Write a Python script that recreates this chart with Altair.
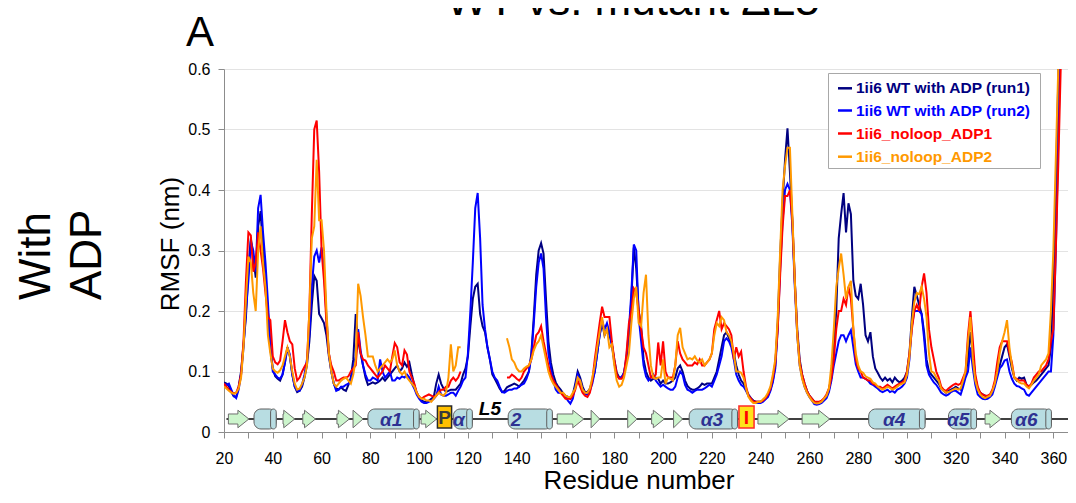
import altair as alt
import pandas as pd

FONT = "Liberation Sans, Arial, sans-serif"

residues = list(range(20, 366))

navy = [
    .082, .080, .076, .066, .059, .058, .075, .100, .145, .190,
    .270, .320, .290, .255, .340, .365, .300, .240, .200, .140,
    .105, .092, .088, .085, .095, .115, .140, .125, .095, .075,
    .066, .068, .075, .090, .110, .150, .210, .258, .250, .195,
    .188, .180, .160, .125, .100, .080, .072, .070, .074, .070,
    .068, .078, .090, .120, .195, .150, .130, .110, .090, .078,
    .080, .082, .080, .082, .085, .090, .085, .090, .095, .100,
    .105, .110, .100, .105, .115, .108, .115, .095, .078, .065,
    .058, .052, .050, .050, .052, .055, .058, .080, .095, .080,
    .072, .066, .068, .070, .070, .070, .075, .080, .095, .105,
    .125, .175, .220, .240, .245, .195, .175, .165, .140, .120,
    .095, .088, .080, .072, .066, .068, .074, .076, .078, .080,
    .078, .075, .080, .085, .092, .100, .130, .190, .260, .300,
    .312, .295, .220, .150, .115, .095, .082, .075, .070, .064,
    .060, .058, .055, .062, .080, .100, .090, .075, .066, .066,
    .072, .085, .100, .130, .160, .180, .160, .170, .160, .145,
    .120, .098, .090, .090, .098, .120, .160, .220, .305, .270,
    .200, .175, .120, .100, .090, .085, .088, .090, .088, .080,
    .085, .080, .080, .082, .085, .090, .105, .110, .100, .085,
    .076, .072, .070, .070, .072, .075, .080, .078, .080, .080,
    .080, .090, .100, .120, .140, .160, .165, .155, .145, .130,
    .110, .095, .085, .080, .070, .062, .056, .052, .050, .050,
    .050, .052, .055, .060, .070, .085, .110, .180, .290, .380,
    .450, .502, .430, .350, .250, .170, .120, .095, .080, .068,
    .060, .055, .050, .048, .048, .050, .054, .060, .070, .090,
    .140, .200, .320, .360, .395, .330, .378, .360, .250, .225,
    .220, .245, .210, .160, .150, .165, .125, .105, .098, .090,
    .085, .090, .085, .088, .082, .090, .085, .082, .085, .090,
    .100, .130, .190, .240, .225, .210, .195, .165, .120, .100,
    .095, .090, .085, .080, .072, .068, .065, .068, .070, .072,
    .075, .072, .070, .080, .095, .120, .165, .130, .090, .072,
    .065, .062, .060, .058, .060, .068, .080, .095, .110, .125,
    .140, .145, .125, .105, .090, .085, .090, .088, .090, .078,
    .075, .078, .082, .085, .090, .095, .100, .105, .110, .140,
    .250, .400, .580, .750, .900, 1.0,
]

blue = [
    .080, .078, .080, .070, .060, .056, .070, .095, .140, .200,
    .250, .315, .300, .265, .370, .392, .330, .280, .215, .140,
    .100, .095, .090, .088, .095, .115, .140, .128, .095, .075,
    .068, .068, .078, .095, .120, .160, .240, .290, .300, .280,
    .305, .270, .190, .130, .100, .080, .068, .070, .075, .075,
    .078, .080, .085, .105, .125, .170, .135, .110, .095, .085,
    .085, .090, .088, .085, .120, .100, .090, .095, .100, .085,
    .085, .090, .088, .092, .090, .095, .090, .080, .072, .062,
    .055, .050, .048, .048, .050, .052, .055, .060, .075, .062,
    .060, .060, .062, .065, .065, .060, .068, .075, .085, .090,
    .130, .200, .280, .370, .395, .320, .210, .170, .140, .120,
    .100, .090, .085, .075, .066, .065, .068, .070, .070, .072,
    .072, .075, .078, .080, .088, .100, .125, .180, .240, .280,
    .295, .270, .190, .130, .105, .085, .070, .065, .065, .062,
    .058, .052, .047, .055, .075, .095, .085, .070, .062, .062,
    .068, .080, .100, .130, .160, .185, .170, .180, .165, .145,
    .115, .092, .090, .090, .098, .125, .170, .230, .310, .300,
    .190, .150, .110, .092, .085, .090, .095, .085, .080, .075,
    .078, .075, .072, .070, .070, .075, .090, .100, .095, .078,
    .070, .068, .065, .068, .070, .070, .070, .072, .075, .078,
    .075, .085, .095, .110, .125, .150, .155, .150, .140, .120,
    .095, .085, .078, .075, .068, .060, .055, .050, .048, .048,
    .048, .050, .054, .058, .068, .082, .105, .170, .270, .350,
    .400, .410, .400, .340, .240, .160, .110, .090, .075, .065,
    .058, .052, .046, .045, .046, .048, .052, .056, .066, .085,
    .110, .130, .150, .160, .160, .150, .160, .168, .140, .112,
    .100, .090, .090, .088, .085, .080, .078, .075, .072, .068,
    .066, .068, .070, .066, .068, .065, .070, .072, .075, .080,
    .090, .120, .175, .200, .200, .200, .195, .155, .110, .095,
    .088, .082, .078, .072, .065, .062, .060, .062, .066, .068,
    .068, .065, .062, .075, .090, .100, .140, .105, .078, .062,
    .058, .055, .054, .055, .058, .062, .075, .090, .105, .110,
    .118, .120, .100, .088, .080, .076, .075, .072, .070, .062,
    .060, .065, .070, .075, .080, .085, .090, .095, .100, .100,
    .160, .300, .480, .650, .850, 1.0,
]

red = [
    .080, .075, .070, .066, .064, .065, .075, .095, .150, .250,
    .330, .325, .265, .280, .330, .300, .270, .230, .190, .185,
    .125, .115, .112, .118, .150, .185, .165, .150, .145, .105,
    .085, .090, .100, .108, .115, .200, .360, .500, .515, .430,
    .300, .250, .180, .130, .110, .100, .085, .085, .088, .090,
    .090, .092, .100, .105, .110, .165, .130, .120, .118, .110,
    .105, .100, .095, .090, .095, .100, .110, .105, .100, .125,
    .147, .140, .115, .110, .135, .128, .100, .090, .080, .065,
    .058, .055, .058, .060, .062, .060, .058, .060, .065, .070,
    .070, .075, .075, .085, .090, .085, .090, .100, None, None,
    None, None, None, None, None, None, None, None, None, None,
    None, None, None, None, None, None, .090, .090, .095, .092,
    .088, .085, .090, .100, .105, .110, .120, .140, .160, .165,
    .175, .150, .130, .110, .095, .085, .078, .072, .065, .060,
    .055, .055, .055, .060, .070, .085, .075, .065, .060, .058,
    .065, .085, .120, .150, .180, .207, .190, .190, .190, .150,
    .120, .095, .088, .088, .095, .130, .180, .200, .237, .230,
    .200, .170, .140, .130, .110, .090, .090, .095, .148, .110,
    .150, .100, .090, .090, .090, .110, .150, .130, .120, .115,
    .110, .110, .110, .115, .112, .120, .110, .110, .115, .120,
    .130, .170, .185, .200, .170, .180, .175, .170, .160, .120,
    .140, .125, .133, .100, .075, .060, .055, .050, .050, .050,
    .050, .052, .056, .062, .072, .090, .115, .170, .260, .340,
    .390, .390, .400, .350, .250, .165, .115, .095, .080, .068,
    .060, .055, .050, .050, .050, .052, .056, .062, .072, .090,
    .120, .170, .200, .200, .220, .210, .240, .220, .170, .120,
    .105, .100, .090, .088, .085, .085, .080, .078, .075, .075,
    .072, .075, .078, .075, .072, .075, .078, .080, .082, .085,
    .100, .130, .170, .200, .210, .200, .240, .262, .230, .170,
    .140, .120, .100, .090, .075, .070, .068, .072, .075, .078,
    .080, .078, .080, .090, .100, .160, .200, .150, .095, .075,
    .065, .062, .060, .060, .062, .070, .085, .115, .140, .150,
    .150, .150, .130, .115, .090, .088, .085, .085, .085, .078,
    .075, .080, .090, .095, .100, .100, .105, .110, .120, .150,
    .170, .300, .440, .600, .800, 1.0,
]

orange = [
    .075, .072, .068, .065, .063, .065, .072, .090, .140, .220,
    .290, .280, .230, .200, .300, .340, .280, .240, .160, .130,
    .105, .100, .098, .102, .110, .125, .140, .125, .100, .080,
    .070, .072, .080, .090, .110, .200, .320, .340, .450, .350,
    .350, .300, .200, .130, .100, .080, .075, .080, .085, .088,
    .090, .085, .080, .095, .120, .245, .225, .190, .160, .125,
    .125, .125, .110, .100, .105, .110, .115, .120, .115, .120,
    .135, .110, .100, .095, .100, .090, .085, .080, .075, .065,
    .058, .055, .055, .052, .052, .050, .055, .060, .065, .062,
    .060, .065, .090, .145, .100, .110, .140, .140, None, None,
    None, None, None, None, None, None, None, None, None, None,
    None, None, None, None, None, None, .155, .140, .120, .115,
    .105, .100, .100, .105, .108, .110, .120, .135, .145, .150,
    .160, .140, .120, .100, .088, .080, .075, .070, .065, .065,
    .060, .058, .058, .065, .072, .090, .085, .070, .065, .065,
    .072, .090, .110, .140, .165, .190, .160, .170, .140, .145,
    .110, .085, .075, .078, .090, .110, .130, .180, .220, .240,
    .180, .175, .230, .260, .160, .110, .090, .088, .090, .090,
    .120, .080, .090, .088, .085, .110, .160, .172, .140, .130,
    .120, .122, .120, .125, .118, .115, .120, .110, .115, .120,
    .130, .160, .180, .175, .190, .185, .165, .160, .150, .130,
    .100, .100, .098, .090, .072, .058, .052, .048, .048, .050,
    .050, .054, .058, .065, .075, .095, .120, .190, .300, .400,
    .440, .470, .470, .360, .250, .160, .110, .088, .075, .065,
    .058, .052, .048, .047, .048, .050, .055, .060, .072, .110,
    .170, .240, .270, .295, .260, .220, .240, .250, .170, .130,
    .110, .100, .098, .092, .090, .088, .082, .080, .075, .072,
    .070, .072, .075, .073, .070, .072, .075, .078, .080, .082,
    .095, .125, .180, .215, .230, .228, .240, .220, .190, .130,
    .100, .098, .090, .085, .072, .068, .065, .066, .068, .070,
    .072, .070, .072, .085, .100, .150, .190, .120, .085, .070,
    .062, .058, .056, .058, .060, .068, .080, .100, .130, .150,
    .165, .185, .140, .110, .090, .086, .082, .080, .080, .075,
    .072, .078, .085, .090, .095, .110, .115, .120, .130, .200,
    .300, .450, .600, .750, .900, 1.0,
]

series_names = ["1ii6 WT with ADP (run1)", "1ii6 WT with ADP (run2)",
                "1ii6_noloop_ADP1", "1ii6_noloop_ADP2"]
series_colors = ["#000080", "#0000FF", "#FF0000", "#FF9900"]

# secondary structure (residue numbers)
arrow_start = [21.8, 44.2, 52.3, 66.3, 72.9, 100.8, 156.6, 170.5, 185.5, 195.3, 204.3, 238.9, 257.0, 332.0]
arrow_end = [30.2, 49.0, 57.5, 71.4, 77.0, 107.2, 167.5, 174.0, 189.3, 200.5, 208.0, 251.6, 268.3, 338.5]
cyl_start = [32.3, 79.0, 114.0, 136.5, 210.7, 284.3, 317.0, 342.8]
cyl_end = [41.4, 100.0, 121.8, 154.6, 230.5, 307.4, 328.5, 359.2]
cyl_label = ["", "α1", "α", "2", "α3", "α4", "α5", "α6"]
cyl_label_pos = [36.0, 88.5, 116.3, 139.7, 220.0, 294.7, 321.0, 348.9]
box_start = [107.5, 231.1]
box_end = [113.3, 237.3]
box_label = ["P", "I"]
loop_label = ["L5"]
loop_pos = [129.0]

# ---------------------------------------------------------------- frames
rows = []
for name, vals in zip(series_names, [navy, blue, red, orange]):
    assert len(vals) == len(residues), (name, len(vals))
    seg, gap = 0, False
    for r, v in zip(residues, vals):
        if v is None:
            gap = True
            continue
        if gap:
            seg += 1
            gap = False
        rows.append({"res": r, "rmsf": v, "series": name, "seg": seg})
df = pd.DataFrame(rows)

SS_Y = 0.0215
ar = []
for i, (s, e) in enumerate(zip(arrow_start, arrow_end)):
    hs = e - min(4.5, e - s)
    ar += [
        {"id": i, "x": s, "lo": SS_Y - 0.0083, "hi": SS_Y + 0.0083},
        {"id": i, "x": hs, "lo": SS_Y - 0.0083, "hi": SS_Y + 0.0083},
        {"id": i, "x": hs, "lo": SS_Y - 0.0145, "hi": SS_Y + 0.0145},
        {"id": i, "x": e, "lo": SS_Y, "hi": SS_Y},
    ]
arrows = pd.DataFrame(ar)
cyl = pd.DataFrame({"s": cyl_start, "e": cyl_end, "lab": cyl_label, "lp": cyl_label_pos})
cyl["cs"] = cyl["e"] - 2.3
cyl["lo"] = SS_Y - 0.0165
cyl["hi"] = SS_Y + 0.0165
cyl["mid"] = SS_Y
boxes = pd.DataFrame({"s": box_start, "e": box_end, "lab": box_label})
boxes["m"] = (boxes["s"] + boxes["e"]) / 2
boxes["lo"] = 0.0066
boxes["hi"] = 0.043
boxes["mid"] = SS_Y + 0.003
backbone = pd.DataFrame({"s": [21.0], "e": [366.0], "y": [SS_Y]})
loops = pd.DataFrame({"lab": loop_label, "x": loop_pos, "y": [0.0285]})

xs = alt.Scale(domain=[20, 366], nice=False, zero=False)
ys = alt.Scale(domain=[0, 0.6], nice=False, zero=True)
xaxis = alt.Axis(values=list(range(20, 361, 10)),
                 labelExpr="datum.value % 20 === 0 ? datum.label : ''",
                 format="d", title=None, grid=False, tickSize=6, labelFontSize=16,
                 labelFont=FONT, labelPadding=12, labelColor="#000000",
                 domainColor="#8c8c8c", tickColor="#8c8c8c", labelOverlap=False,
                 labelFlush=False, labelBound=False)
yaxis = alt.Axis(values=[0, 0.1, 0.2, 0.3, 0.4, 0.5, 0.6],
                 labelExpr="datum.value == 0 ? '0' : format(datum.value, '.1f')",
                 title=None, grid=True, gridColor="#e3e3e3", tickSize=6, labelFontSize=16,
                 labelFont=FONT, labelPadding=8, labelColor="#000000",
                 domainColor="#8c8c8c", tickColor="#8c8c8c", labelOverlap=False,
                 labelFlush=False, labelBound=False)


def X(f):
    return alt.X(f, type="quantitative", scale=xs, axis=xaxis)


def Y(f):
    return alt.Y(f, type="quantitative", scale=ys, axis=yaxis)


color = alt.Color("series:N", scale=alt.Scale(domain=series_names, range=series_colors),
                  legend=None)

layers = []
# backbone of the secondary-structure diagram
layers.append(alt.Chart(backbone).mark_rule(color="#404040", strokeWidth=2, clip=True)
              .encode(x=X("s"), x2="e", y=Y("y")))
layers.append(alt.Chart(arrows).mark_area(fill="#ccf5cc", stroke="#6e6e6e", strokeWidth=1,
                                          opacity=1, interpolate="linear")
              .encode(x=X("x"), y=Y("lo"), y2="hi", detail="id:N"))
layers.append(alt.Chart(cyl).mark_rect(fill="#b8dde2", stroke="#5f5f5f", strokeWidth=1,
                                       cornerRadius=7)
              .encode(x=X("s"), x2="e", y=Y("lo"), y2="hi"))
layers.append(alt.Chart(cyl).mark_rect(fill="#b8dde2", stroke="#5f5f5f", strokeWidth=1,
                                       cornerRadius=3)
              .encode(x=X("cs"), x2="e", y=Y("lo"), y2="hi"))
layers.append(alt.Chart(cyl).mark_text(font=FONT, fontSize=19, fontWeight="bold",
                                       fontStyle="italic", color="#2E3192", baseline="middle",
                                       dy=1)
              .encode(x=X("lp"), y=Y("mid"), text="lab:N"))
box_colors = {"P": ("#FFC000", "#2a2a2a", "#3a3a3a"), "I": ("#FFE21A", "#FF2A2A", "#FF0000")}
for lab in box_label:
    fill, stroke, tcol = box_colors[lab]
    sub = boxes[boxes.lab == lab]
    layers.append(alt.Chart(sub).mark_rect(fill=fill, stroke=stroke, strokeWidth=1.5)
                  .encode(x=X("s"), x2="e", y=Y("lo"), y2="hi"))
    layers.append(alt.Chart(sub).mark_text(font=FONT, fontSize=19, fontWeight="bold",
                                           color=tcol, baseline="middle", dy=1)
                  .encode(x=X("m"), y=Y("mid"), text="lab:N"))
layers.append(alt.Chart(loops).mark_text(font=FONT, fontSize=19, fontWeight="bold",
                                         fontStyle="italic", color="#000000",
                                         baseline="alphabetic")
              .encode(x=X("x"), y=Y("y"), text="lab:N"))

for name in series_names:
    layers.append(alt.Chart(df[df.series == name]).mark_line(strokeWidth=2, clip=True)
                  .encode(x=X("res"), y=Y("rmsf"), color=color, detail="seg:N"))

one = pd.DataFrame({"a": [0]})


def label(text, x, y, size, angle=0, align="left", baseline="alphabetic",
          color="#000000", weight="normal"):
    kw = dict(text=text, font=FONT, fontSize=size, color=color, align=align,
              baseline=baseline, fontWeight=weight)
    if angle:
        kw["angle"] = angle
    return alt.Chart(one).mark_text(**kw).encode(x=alt.value(x), y=alt.value(y))


# legend (drawn by hand so that each label takes its series colour)
layers.append(alt.Chart(one).mark_rect(fill="white", stroke="#a8a8a8", strokeWidth=1)
              .encode(x=alt.value(604.5), x2=alt.value(816.5),
                      y=alt.value(4.5), y2=alt.value(99.5)))
row_y = [19.3, 41.5, 64.5, 87.7]
for name, col, yc in zip(series_names, series_colors, row_y):
    layers.append(alt.Chart(one).mark_rule(color=col, strokeWidth=2.5)
                  .encode(x=alt.value(614), x2=alt.value(628), y=alt.value(yc)))
    layers.append(label(name, 632, yc, 15.5, baseline="middle", color=col, weight="bold"))

layers.append(label("A", -38, -23, 42))
layers.append(label("WT vs. mutant ΔL5", 409, -54, 44, align="center"))
layers.append(label("With", -174, 231, 44, angle=270))
layers.append(label("ADP", -123, 231, 44, angle=270))
layers.append(label("RMSF (nm)", -45, 175, 26, angle=270, align="center"))
layers.append(label("Residue number", 415, 420, 26, align="center"))

chart = alt.layer(*layers).properties(
    width=844, height=363,
    autosize=alt.AutoSizeParams(type="none"),
    padding={"left": 216, "top": 61, "right": 0, "bottom": 63},
    background="white",
).configure_view(stroke=None)

chart.save("out.html", embed_options={"renderer": "svg", "actions": False})
